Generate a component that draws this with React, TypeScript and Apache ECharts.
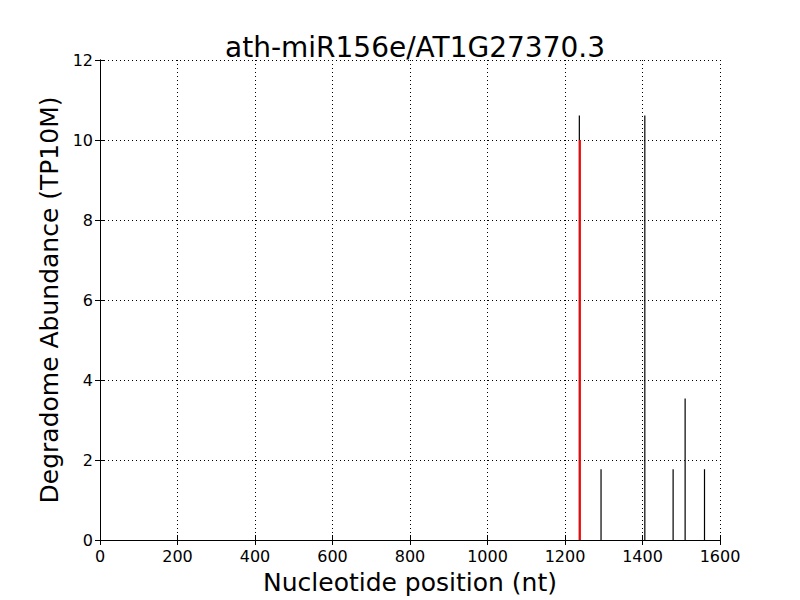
import React, { useEffect, useRef } from "react";
import * as echarts from "echarts";

const titleText = "ath-miR156e/AT1G27370.3";
const positions = [1237, 1293, 1406, 1479, 1510, 1560];
const abundance = [10.61, 1.77, 10.61, 1.77, 3.54, 1.77];
const cleavagePos = [1238.5];
const cleavageVal = [10];

const FONT = "DejaVu Sans";

export default function App() {
  const ref = useRef<HTMLDivElement>(null);
  useEffect(() => {
    const chart = echarts.init(ref.current!, null, { renderer: "svg" });
    const lineItem = (color: string, width: number) => (params: any, api: any) => {
      const x = api.value(0);
      const y = api.value(1);
      const p0 = api.coord([x, 0]);
      const p1 = api.coord([x, y]);
      return {
        type: "line",
        shape: { x1: p0[0], y1: p0[1], x2: p1[0], y2: p1[1] },
        style: { stroke: color, lineWidth: width },
      };
    };
    const axisCommon = {
      axisLine: { show: true, lineStyle: { color: "#000", width: 1 } },
      axisTick: { show: true, inside: true, length: 5, lineStyle: { color: "#000" } },
    };
    chart.setOption({
      animation: false,
      backgroundColor: "#fff",
      title: {
        text: titleText,
        left: 410,
        top: 28,
        textAlign: "center",
        textStyle: { fontFamily: FONT, fontSize: 28, fontWeight: "normal", color: "#000" },
      },
      grid: { left: 100, right: 80, top: 60, bottom: 60, show: false },
      xAxis: [
        {
          type: "value",
          min: 0,
          max: 1600,
          interval: 200,
          name: "Nucleotide position (nt)",
          nameLocation: "middle",
          nameGap: 30,
          nameTextStyle: { fontFamily: FONT, fontSize: 25, color: "#000" },
          ...axisCommon,
          axisLabel: { fontFamily: FONT, fontSize: 16, color: "#000", margin: 8, formatter: (v: number) => String(v) },
          splitLine: { show: true, lineStyle: { color: "#000", type: [1, 3], width: 1 } },
        },
        {
          type: "value",
          position: "top",
          min: 0,
          max: 1600,
          interval: 200,
          ...axisCommon,
          axisLabel: { show: false },
          splitLine: { show: false },
        },
      ],
      yAxis: [
        {
          type: "value",
          min: 0,
          max: 12,
          interval: 2,
          name: "Degradome Abundance (TP10M)",
          nameLocation: "middle",
          nameGap: 36,
          nameTextStyle: { fontFamily: FONT, fontSize: 25, color: "#000" },
          ...axisCommon,
          axisLabel: { fontFamily: FONT, fontSize: 16, color: "#000", margin: 7, formatter: (v: number) => String(v) },
          splitLine: { show: true, lineStyle: { color: "#000", type: [1, 3], width: 1 } },
        },
        {
          type: "value",
          position: "right",
          min: 0,
          max: 12,
          interval: 2,
          ...axisCommon,
          axisLabel: { show: false },
          splitLine: { show: false },
        },
      ],
      series: [
        {
          type: "custom",
          renderItem: lineItem("#000", 1.2),
          data: positions.map((p, i) => [p, abundance[i]]),
          xAxisIndex: 0,
          yAxisIndex: 0,
          z: 3,
        },
        {
          type: "custom",
          renderItem: lineItem("#ff0000", 2),
          data: cleavagePos.map((p, i) => [p, cleavageVal[i]]),
          xAxisIndex: 0,
          yAxisIndex: 0,
          z: 4,
        },
      ],
    });
    return () => chart.dispose();
  }, []);
  return <div ref={ref} style={{ width: 800, height: 600, position: "absolute", left: 0, top: 0 }} />;
}
